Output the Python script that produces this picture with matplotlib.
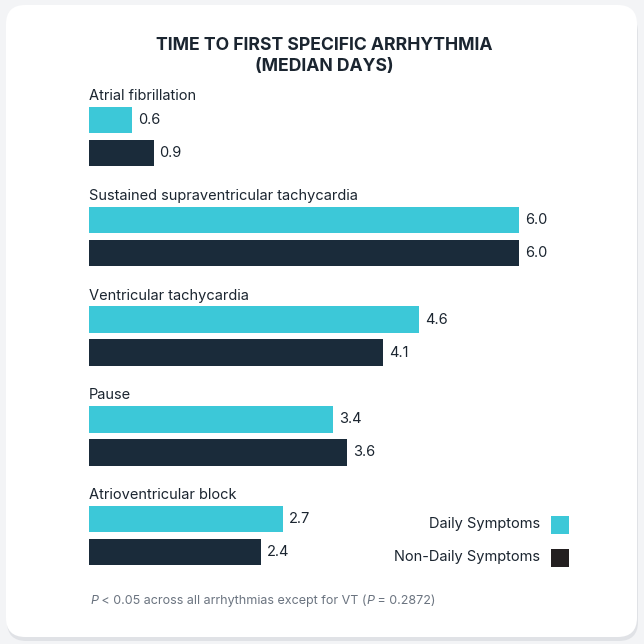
import matplotlib
matplotlib.use("Agg")
import matplotlib.pyplot as plt
from matplotlib.patches import FancyBboxPatch, Rectangle

categories = ["Atrial fibrillation", "Sustained supraventricular tachycardia",
              "Ventricular tachycardia", "Pause", "Atrioventricular block"]
daily = [0.6, 6.0, 4.6, 3.4, 2.7]
non_daily = [0.9, 6.0, 4.1, 3.6, 2.4]
series_names = ["Daily Symptoms", "Non-Daily Symptoms"]
title = "TIME TO FIRST SPECIFIC ARRHYTHMIA\n(MEDIAN DAYS)"
footnote_parts = [("P", True), (" < 0.05 across all arrhythmias except for VT (", False),
                  ("P", True), (" = 0.2872)", False)]

CYAN = "#3CC8D8"
DARK = "#1A2B3A"
TEXT = "#1B2530"
GRAY = "#6B7480"

plt.rcParams['font.family'] = ['Inter', 'DejaVu Sans']

W = H = 644
fig = plt.figure(figsize=(6.44, 6.44), dpi=100)
fig.patch.set_facecolor("#F3F4F6")

# card with shadow
shadow = FancyBboxPatch((7 / W, 3 / H), 631 / W, 628 / H,
                        boxstyle="round,pad=0,rounding_size=0.03",
                        transform=fig.transFigure, facecolor="#E0E2E6",
                        edgecolor="none", zorder=0)
card = FancyBboxPatch((6 / W, 7 / H), 631 / W, 632 / H,
                      boxstyle="round,pad=0,rounding_size=0.03",
                      transform=fig.transFigure, facecolor="white",
                      edgecolor="none", zorder=1)
fig.patches.extend([shadow, card])

ax = fig.add_axes([0, 0, 1, 1])
ax.set_facecolor("none")
ax.set_zorder(2)
x0 = 89.0
scale = (519.0 - 89.0) / 6.0
ax.set_xlim(-x0 / scale, (W - x0) / scale)
ax.set_ylim(H, 0)
ax.axis("off")

bar_h = 26.5
group_step = 99.8
first_cyan_center = 120.0
gap = 33.0

for i, cat in enumerate(categories):
    yc = first_cyan_center + i * group_step
    yd = yc + gap
    ax.text(0, yc - 20, cat, ha="left", va="baseline", fontsize=10.5, color=TEXT)
    ax.barh(yc, daily[i], height=bar_h, color=CYAN, left=0)
    ax.barh(yd, non_daily[i], height=bar_h, color=DARK, left=0)
    ax.text(daily[i] + 6 / scale, yc, f"{daily[i]:.1f}", ha="left", va="center",
            fontsize=10.5, color=TEXT)
    ax.text(non_daily[i] + 6 / scale, yd, f"{non_daily[i]:.1f}", ha="left", va="center",
            fontsize=10.5, color=TEXT)

# title
fig.text(324 / W, 1 - 56 / H, title, ha="center", va="center", fontsize=12.7,
         fontweight="bold", color=TEXT, linespacing=1.38)

# legend
leg_colors = [CYAN, "#231F20"]
leg_y = [524, 557]
for name, col, ly in zip(series_names, leg_colors, leg_y):
    fig.text(540 / W, 1 - ly / H, name, ha="right", va="center", fontsize=10.5, color=TEXT)
    fig.patches.append(Rectangle((551 / W, 1 - (ly + 9.5) / H), 18 / W, 18 / H,
                                 transform=fig.transFigure, facecolor=col,
                                 edgecolor="none", zorder=3))

# footnote
xpos = 90
renderer = fig.canvas.get_renderer()
for txt, ital in footnote_parts:
    t = fig.text(xpos / W, 1 - 601 / H, txt, ha="left", va="center", fontsize=9,
                 color=GRAY, style="italic" if ital else "normal")
    bb = t.get_window_extent(renderer=renderer)
    xpos += bb.width

fig.savefig("out.png", dpi=100, facecolor=fig.get_facecolor())
